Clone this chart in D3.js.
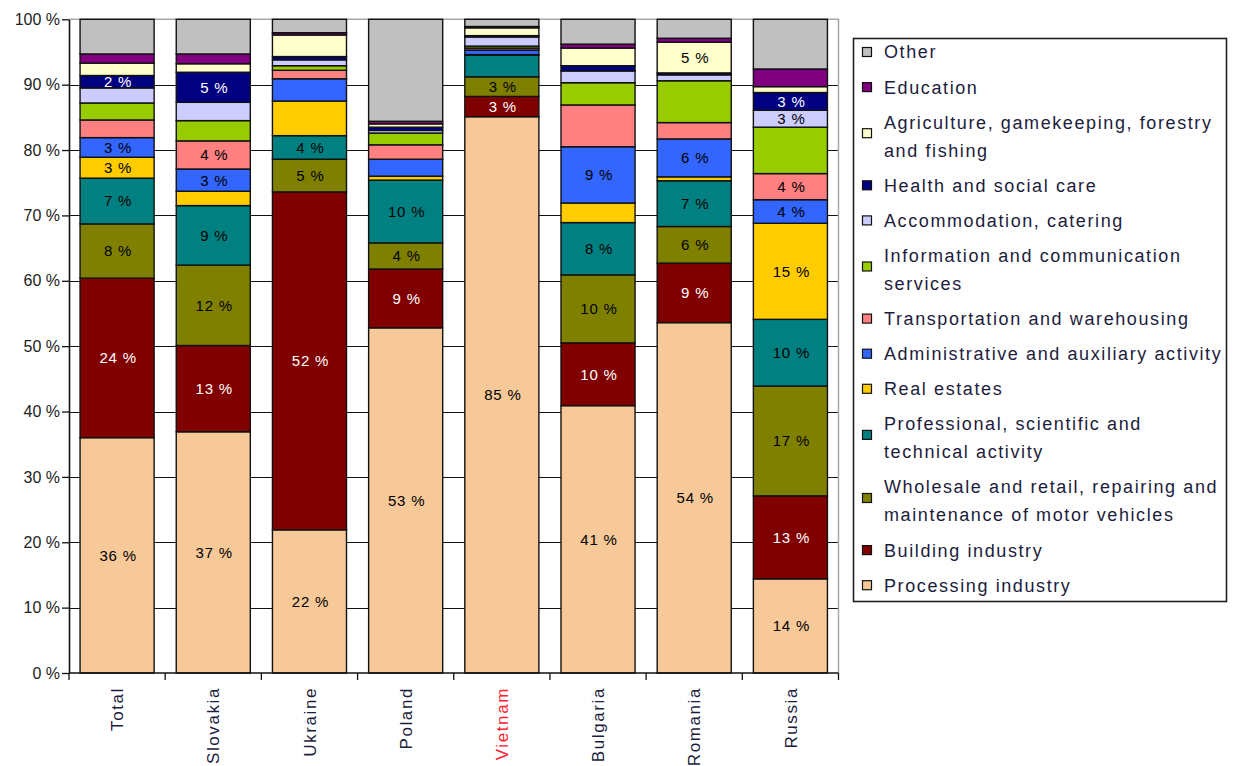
<!DOCTYPE html>
<html>
<head>
<meta charset="utf-8">
<script src="https://cdn.jsdelivr.net/npm/d3@7"></script>
<style>
  body { margin: 0; background: #fff; }
  svg { display: block; font-family: "Liberation Sans", Arial, sans-serif; }
</style>
</head>
<body>
<svg id="chart" width="1239" height="766"></svg>
<script>
// Share of companies by sector, per country (percent of each column)
const categories = ["Total", "Slovakia", "Ukraine", "Poland", "Vietnam", "Bulgaria", "Romania", "Russia"];
const highlightCategory = "Vietnam";

const processing    = [36.0, 36.9, 21.9, 52.8, 85.1, 40.9, 53.6, 14.4];
const building      = [24.4, 13.2, 51.7,  9.0,  3.1,  9.6,  9.1, 12.7];
const wholesale     = [ 8.3, 12.3,  5.0,  4.0,  3.0, 10.4,  5.6, 16.8];
const professional  = [ 7.0,  9.1,  3.6,  9.6,  3.3,  8.0,  7.0, 10.2];
const realEstate    = [ 3.2,  2.2,  5.3,  0.6,  0.1,  3.0,  0.6, 14.7];
const admin         = [ 3.0,  3.4,  3.4,  2.6,  0.7,  8.6,  5.8,  3.6];
const transport     = [ 2.7,  4.3,  1.3,  2.2,  0.3,  6.4,  2.5,  4.0];
const ict           = [ 2.6,  3.1,  0.7,  1.8,  0.3,  3.4,  6.4,  7.1];
const accommodation = [ 2.3,  2.8,  0.9,  0.4,  1.4,  1.8,  0.9,  2.6];
const health        = [ 1.9,  4.6,  0.5,  0.5,  0.2,  0.8,  0.3,  2.7];
const agriculture   = [ 1.9,  1.3,  3.3,  0.5,  1.2,  2.7,  4.7,  0.9];
const education     = [ 1.4,  1.5, 0.35,  0.4,  0.2,  0.6,  0.6,  2.7];
const other         = [ 5.3,  5.3, 2.05, 15.6,  1.1,  3.8,  2.9,  7.6];

// Which segments carry a value label (1 = labelled), same column order as categories
const labelledProcessing   = [1, 1, 1, 1, 1, 1, 1, 1];
const labelledBuilding     = [1, 1, 1, 1, 1, 1, 1, 1];
const labelledWholesale    = [1, 1, 1, 1, 1, 1, 1, 1];
const labelledProfessional = [1, 1, 1, 1, 0, 1, 1, 1];
const labelledRealEstate   = [1, 0, 0, 0, 0, 0, 0, 1];
const labelledAdmin        = [1, 1, 0, 0, 0, 1, 1, 1];
const labelledTransport    = [0, 1, 0, 0, 0, 0, 0, 1];
const labelledAccommodation= [0, 0, 0, 0, 0, 0, 0, 1];
const labelledHealth       = [1, 1, 0, 0, 0, 0, 0, 1];
const labelledAgriculture  = [0, 0, 0, 0, 0, 0, 1, 0];

const yTicks = [0, 10, 20, 30, 40, 50, 60, 70, 80, 90, 100];

// Series, bottom of the stack first
const series = [
  { key: "processing",    values: processing,    color: "#F7C898", text: "#000", lines: ["Processing industry"], labelled: labelledProcessing },
  { key: "building",      values: building,      color: "#800000", text: "#fff", lines: ["Building industry"], labelled: labelledBuilding },
  { key: "wholesale",     values: wholesale,     color: "#808000", text: "#000", lines: ["Wholesale and retail, repairing and", "maintenance of motor vehicles"], labelled: labelledWholesale },
  { key: "professional",  values: professional,  color: "#008080", text: "#000", lines: ["Professional, scientific and", "technical activity"], labelled: labelledProfessional },
  { key: "realEstate",    values: realEstate,    color: "#FFCC00", text: "#000", lines: ["Real estates"], labelled: labelledRealEstate },
  { key: "admin",         values: admin,         color: "#3366FF", text: "#000", lines: ["Administrative and auxiliary activity"], labelled: labelledAdmin },
  { key: "transport",     values: transport,     color: "#FF8080", text: "#000", lines: ["Transportation and warehousing"], labelled: labelledTransport },
  { key: "ict",           values: ict,           color: "#99CC00", text: "#000", lines: ["Information and communication", "services"], labelled: null },
  { key: "accommodation", values: accommodation, color: "#CCCCFF", text: "#000", lines: ["Accommodation, catering"], labelled: labelledAccommodation },
  { key: "health",        values: health,        color: "#000080", text: "#fff", lines: ["Health and social care"], labelled: labelledHealth },
  { key: "agriculture",   values: agriculture,   color: "#FFFFCC", text: "#000", lines: ["Agriculture, gamekeeping, forestry", "and fishing"], labelled: labelledAgriculture },
  { key: "education",     values: education,     color: "#800080", text: "#000", lines: ["Education"], labelled: null },
  { key: "other",         values: other,         color: "#C0C0C0", text: "#000", lines: ["Other"], labelled: null }
];

const rows = categories.map((c, i) => {
  const r = { category: c };
  series.forEach(s => { r[s.key] = s.values[i]; });
  return r;
});
const stacked = d3.stack().keys(series.map(s => s.key))(rows);

const svg = d3.select("#chart");
svg.append("rect").attr("width", 1239).attr("height", 766).attr("fill", "#fff");

const plot = { left: 69, right: 838.5, top: 19.3, bottom: 673 };
const x = d3.scaleBand().domain(categories)
  .range([plot.left, plot.right]).paddingInner(0.23).paddingOuter(0.115);
const y = d3.scaleLinear().domain([0, 100]).range([plot.bottom, plot.top]);

const textColor = "#1c1c3c";

// Gridlines
svg.append("g").selectAll("line")
  .data(yTicks.filter(t => t > 0 && t < 100))
  .join("line")
  .attr("x1", plot.left).attr("x2", plot.right)
  .attr("y1", d => Math.round(y(d)) + 0.5).attr("y2", d => Math.round(y(d)) + 0.5)
  .attr("stroke", "#111").attr("stroke-width", 1.2);

// Plot frame (top and right)
svg.append("path")
  .attr("d", `M${plot.left},${y(100)}H${plot.right}V${plot.bottom}`)
  .attr("fill", "none").attr("stroke", "#a8a8a8").attr("stroke-width", 1.5);

// Bars
const layers = svg.append("g").selectAll("g")
  .data(stacked).join("g")
  .attr("fill", (d, i) => series[i].color);

layers.selectAll("rect")
  .data(d => d).join("rect")
  .attr("x", d => x(d.data.category))
  .attr("width", x.bandwidth())
  .attr("y", d => y(d[1]))
  .attr("height", d => y(d[0]) - y(d[1]))
  .attr("stroke", "#111").attr("stroke-width", 1.4);

// Value labels
const labelG = svg.append("g")
  .attr("font-size", 15).attr("letter-spacing", 0.8)
  .attr("text-anchor", "middle");
stacked.forEach((layer, si) => {
  const s = series[si];
  if (!s.labelled) return;
  layer.forEach((d, ci) => {
    if (!s.labelled[ci]) return;
    labelG.append("text")
      .attr("x", x(d.data.category) + x.bandwidth() / 2 + 1)
      .attr("y", (y(d[0]) + y(d[1])) / 2)
      .attr("dy", "0.36em")
      .attr("fill", s.text)
      .text(Math.round(d[1] - d[0]) + " %");
  });
});

// Y axis
const yAxis = svg.append("g")
  .attr("transform", `translate(${plot.left},0)`)
  .call(d3.axisLeft(y).tickValues(yTicks).tickFormat(d => d + " %")
    .tickSize(7).tickSizeOuter(0).tickPadding(2));
yAxis.select(".domain").attr("stroke", "#111").attr("stroke-width", 1.6);
yAxis.selectAll(".tick line").attr("stroke", "#111").attr("stroke-width", 1.3);
yAxis.selectAll(".tick text")
  .attr("font-size", 16).attr("fill", "#222")
  .attr("font-family", "\"Liberation Sans\", Arial, sans-serif");

// X axis line and ticks at the column boundaries
svg.append("line")
  .attr("x1", plot.left).attr("x2", plot.right)
  .attr("y1", plot.bottom).attr("y2", plot.bottom)
  .attr("stroke", "#111").attr("stroke-width", 1.6);
svg.append("g").selectAll("line")
  .data(d3.range(categories.length + 1))
  .join("line")
  .attr("x1", i => x.range()[0] + i * x.step())
  .attr("x2", i => x.range()[0] + i * x.step())
  .attr("y1", plot.bottom).attr("y2", plot.bottom + 7)
  .attr("stroke", "#111").attr("stroke-width", 1.3);

// Category labels, rotated
svg.append("g").selectAll("text")
  .data(categories).join("text")
  .attr("transform", c => `translate(${x(c) + x.bandwidth() / 2},${plot.bottom + 14}) rotate(-90)`)
  .attr("text-anchor", "end")
  .attr("dy", "0.36em")
  .attr("font-size", 17).attr("letter-spacing", 1.6)
  .attr("fill", c => c === highlightCategory ? "#FF2030" : textColor)
  .text(c => c);

// Legend
const legend = svg.append("g");
legend.append("rect")
  .attr("x", 853.5).attr("y", 38.5).attr("width", 373).attr("height", 563)
  .attr("fill", "#fff").attr("stroke", "#222").attr("stroke-width", 1.6);

const lineStep = 28, singleSlot = 35.1;
let cursor = 52 - singleSlot / 2;
series.slice().reverse().forEach(s => {
  const n = s.lines.length;
  const h = singleSlot + (n - 1) * lineStep;
  const mid = cursor + h / 2;
  const sy = mid - (n > 1 ? 3 : 0);
  legend.append("rect")
    .attr("x", 862.5).attr("y", sy - 4.5).attr("width", 9).attr("height", 9)
    .attr("fill", s.color).attr("stroke", "#111").attr("stroke-width", 1.2);
  s.lines.forEach((ln, j) => {
    legend.append("text")
      .attr("x", 884)
      .attr("y", mid + (j - (n - 1) / 2) * lineStep)
      .attr("dy", "0.36em")
      .attr("font-size", 18).attr("letter-spacing", 1.6)
      .attr("fill", textColor)
      .text(ln);
  });
  cursor += h;
});
</script>
</body>
</html>
